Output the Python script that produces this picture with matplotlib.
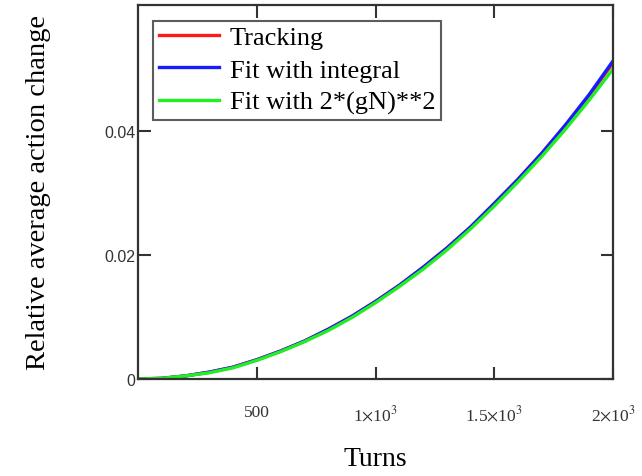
import numpy as np
import matplotlib
matplotlib.use("Agg")
from matplotlib import pyplot as plt

# turns and relative action change
turns = [0, 100, 200, 300, 400, 500, 600, 700, 800, 900, 1000,
         1100, 1200, 1300, 1400, 1500, 1600, 1700, 1800, 1900, 2000]
tracking = [0, 0.0001, 0.0005, 0.0011, 0.0019, 0.0031, 0.0045, 0.0061, 0.0080, 0.0101, 0.0125,
            0.0151, 0.0180, 0.0211, 0.0245, 0.0283, 0.0322, 0.0364, 0.0409, 0.0457, 0.0510]
fit_integral = [0, 0.0001, 0.0005, 0.0011, 0.0019, 0.0031, 0.0045, 0.0061, 0.0080, 0.0101, 0.0125,
                0.0151, 0.0180, 0.0211, 0.0245, 0.0283, 0.0322, 0.0364, 0.0410, 0.0459, 0.0513]
fit_gN2 = [0, 0.0001, 0.0005, 0.0010, 0.0018, 0.0030, 0.0044, 0.0060, 0.0078, 0.0099, 0.0123,
           0.0149, 0.0177, 0.0208, 0.0242, 0.0279, 0.0318, 0.0359, 0.0403, 0.0450, 0.0500]

xticks = [500, 1000, 1500, 2000]
xticklabels = ["500", r"1$\times$10$^3$", r"1.5$\times$10$^3$", r"2$\times$10$^3$"]
yticks = [0, 0.02, 0.04]
yticklabels = ["0", "0.02", "0.04"]

plt.rcParams['font.family'] = ['Liberation Serif', 'DejaVu Serif']
plt.rcParams['mathtext.fontset'] = 'stix'

fig = plt.figure(figsize=(6.42, 4.77), dpi=100)
ax = fig.add_axes([0.215, 0.2034, 0.74, 0.784])

ax.plot(turns, tracking, color="#ff1a1a", lw=2.4, label="Tracking")
ax.plot(turns, fit_integral, color="#1a1aff", lw=2.4, label="Fit with integral")
ax.plot(turns, fit_gN2, color="#22ee22", lw=2.4, label="Fit with 2*(gN)**2")

ax.set_xlim(0, 2000)
ax.set_ylim(0, 0.0603)
ax.set_xticks(xticks)
ax.set_xticklabels(xticklabels, fontsize=12.5, color="#333333")
ax.set_yticks(yticks)
ax.set_yticklabels(yticklabels, fontsize=11.5, family=['Liberation Sans'], color="#333333")
ax.tick_params(direction="in", length=9, width=1.5, top=True, right=True, color="#333333")
ax.tick_params(axis="x", pad=18)
ax.tick_params(axis="y", pad=2)
for s in ax.spines.values():
    s.set_linewidth(1.6)
    s.set_color("#333333")

ax.set_xlabel("Turns", fontsize=20, labelpad=16)
ax.set_ylabel("Relative average action change", fontsize=20.5, labelpad=38)

leg = ax.legend(loc="upper left", bbox_to_anchor=(0.032, 0.958), fontsize=19,
                frameon=True, fancybox=False, edgecolor="#333333",
                handlelength=2.3, handletextpad=0.4, borderpad=0.2, labelspacing=0.33,
                borderaxespad=0)
leg.get_frame().set_linewidth(1.5)

fig.savefig("out.png", dpi=100)
